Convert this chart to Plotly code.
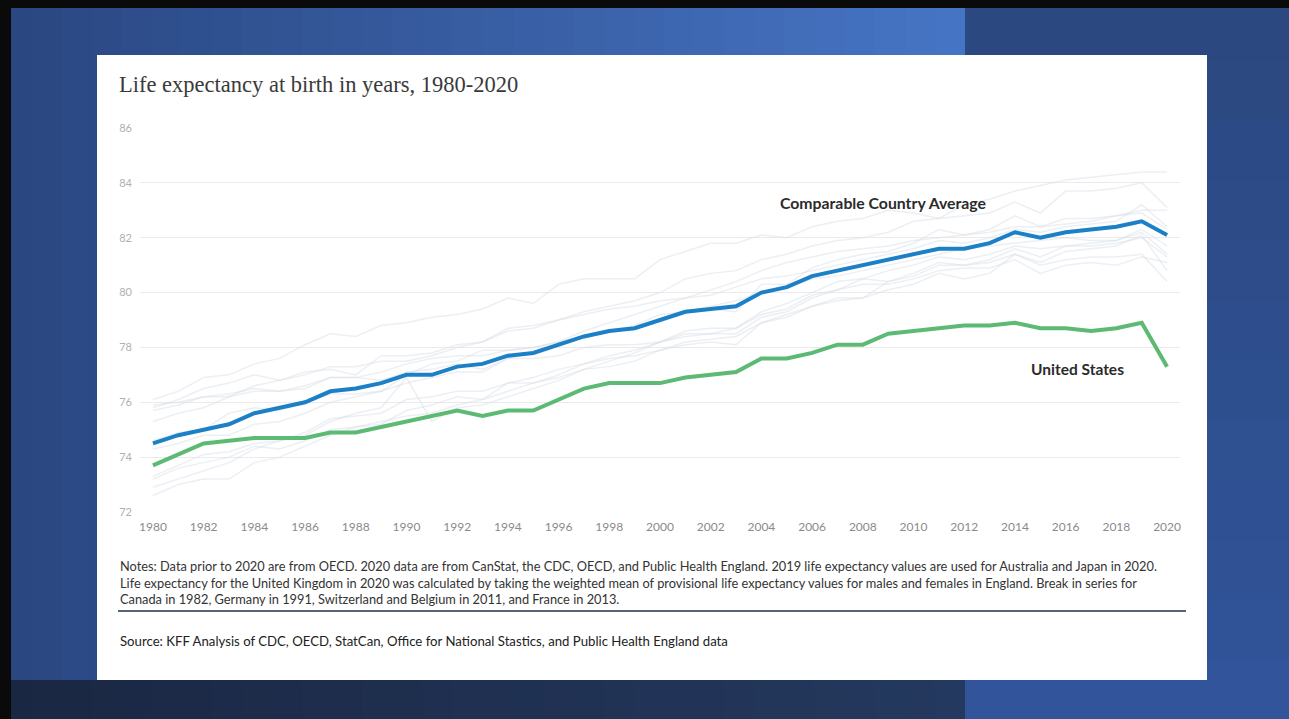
import plotly.graph_objects as go

years = list(range(1980, 2021))

comparable_avg = [74.5, 74.8, 75.0, 75.2, 75.6, 75.8, 76.0, 76.4, 76.5, 76.7,
                  77.0, 77.0, 77.3, 77.4, 77.7, 77.8, 78.1, 78.4, 78.6, 78.7,
                  79.0, 79.3, 79.4, 79.5, 80.0, 80.2, 80.6, 80.8, 81.0, 81.2,
                  81.4, 81.6, 81.6, 81.8, 82.2, 82.0, 82.2, 82.3, 82.4, 82.6,
                  82.1]

united_states = [73.7, 74.1, 74.5, 74.6, 74.7, 74.7, 74.7, 74.9, 74.9, 75.1,
                 75.3, 75.5, 75.7, 75.5, 75.7, 75.7, 76.1, 76.5, 76.7, 76.7,
                 76.7, 76.9, 77.0, 77.1, 77.6, 77.6, 77.8, 78.1, 78.1, 78.5,
                 78.6, 78.7, 78.8, 78.8, 78.9, 78.7, 78.7, 78.6, 78.7, 78.9,
                 77.3]

japan = [76.1, 76.4, 76.9, 77.0, 77.4, 77.6, 78.1, 78.5, 78.4, 78.8,
         78.9, 79.1, 79.2, 79.4, 79.8, 79.6, 80.3, 80.5, 80.5, 80.5,
         81.2, 81.5, 81.8, 81.8, 82.1, 82.0, 82.4, 82.6, 82.7, 83.0,
         82.9, 82.7, 83.2, 83.4, 83.7, 83.9, 84.1, 84.2, 84.3, 84.4,
         84.4]
switzerland = [75.7, 75.9, 76.2, 76.2, 76.6, 76.8, 77.0, 77.3, 77.3, 77.5,
               77.5, 77.7, 78.0, 78.2, 78.6, 78.7, 79.0, 79.3, 79.5, 79.7,
               80.0, 80.5, 80.7, 80.8, 81.2, 81.4, 81.7, 81.9, 82.0, 82.2,
               82.6, 82.7, 82.8, 82.9, 83.3, 82.9, 83.7, 83.7, 83.8, 84.0,
               83.1]
australia = [74.6, 74.9, 75.0, 75.6, 75.8, 75.7, 76.0, 76.3, 76.3, 76.4,
             77.0, 77.4, 77.5, 77.9, 77.9, 78.0, 78.2, 78.6, 78.9, 79.2,
             79.5, 79.8, 80.1, 80.4, 80.8, 81.1, 81.3, 81.5, 81.6, 81.7,
             81.9, 82.0, 82.1, 82.2, 82.4, 82.4, 82.5, 82.6, 82.8, 83.0,
             83.0]
sweden = [75.8, 76.1, 76.5, 76.7, 77.0, 76.8, 77.1, 77.2, 77.0, 77.7,
          77.7, 77.8, 78.1, 78.2, 78.7, 78.8, 79.0, 79.2, 79.4, 79.5,
          79.7, 79.8, 79.9, 80.2, 80.5, 80.6, 80.8, 81.0, 81.2, 81.4,
          81.6, 81.9, 81.8, 82.0, 82.3, 82.2, 82.4, 82.5, 82.6, 83.2,
          82.4]
netherlands = [75.9, 76.0, 76.2, 76.3, 76.5, 76.4, 76.5, 76.9, 76.9, 76.8,
               77.1, 77.2, 77.4, 77.2, 77.6, 77.6, 77.7, 78.0, 78.1, 78.1,
               78.2, 78.4, 78.5, 78.7, 79.3, 79.6, 80.0, 80.4, 80.5, 80.8,
               81.0, 81.3, 81.2, 81.4, 81.7, 81.6, 81.7, 81.8, 81.9, 82.2,
               81.4]
france = [74.3, 74.5, 74.8, 74.8, 75.2, 75.3, 75.6, 76.0, 76.2, 76.4,
          76.7, 76.9, 77.1, 77.1, 77.6, 77.8, 78.1, 78.4, 78.6, 78.8,
          79.2, 79.3, 79.4, 79.3, 80.3, 80.3, 80.9, 81.2, 81.4, 81.5,
          81.8, 82.3, 82.1, 82.3, 82.8, 82.4, 82.7, 82.7, 82.8, 82.9,
          82.3]
canada = [75.3, 75.6, 75.8, 76.2, 76.4, 76.4, 76.6, 76.9, 76.9, 77.1,
          77.4, 77.6, 77.7, 77.7, 77.9, 78.0, 78.2, 78.4, 78.6, 78.7,
          79.0, 79.3, 79.5, 79.7, 80.0, 80.2, 80.5, 80.6, 80.8, 81.0,
          81.2, 81.4, 81.6, 81.7, 81.8, 81.9, 82.0, 81.9, 81.9, 82.3,
          81.7]
germany = [72.9, 73.2, 73.5, 73.8, 74.3, 74.6, 74.8, 75.3, 75.6, 75.8,
           76.9, 75.3, 75.8, 75.9, 76.2, 76.5, 76.8, 77.2, 77.5, 77.8,
           78.2, 78.5, 78.5, 78.5, 79.1, 79.3, 79.8, 80.1, 80.3, 80.3,
           80.5, 80.8, 80.9, 80.9, 81.2, 80.7, 81.0, 81.1, 81.0, 81.3,
           81.1]
austria = [72.6, 73.0, 73.2, 73.2, 73.8, 74.0, 74.4, 74.8, 75.1, 75.3,
           75.5, 75.6, 75.9, 76.1, 76.4, 76.7, 77.0, 77.4, 77.7, 77.9,
           78.2, 78.6, 78.7, 78.7, 79.2, 79.4, 79.9, 80.1, 80.5, 80.4,
           80.7, 81.1, 81.0, 81.2, 81.6, 81.3, 81.7, 81.7, 81.8, 82.0,
           81.3]
belgium = [73.3, 73.7, 74.1, 74.2, 74.5, 74.6, 74.9, 75.4, 75.5, 75.6,
           76.1, 76.2, 76.4, 76.4, 76.7, 76.9, 77.2, 77.4, 77.6, 77.7,
           77.9, 78.1, 78.2, 78.1, 78.9, 79.1, 79.5, 79.8, 79.8, 80.1,
           80.3, 80.7, 80.5, 80.7, 81.4, 81.1, 81.5, 81.6, 81.7, 82.1,
           80.8]
united_kingdom = [73.2, 73.6, 73.8, 74.0, 74.4, 74.3, 74.6, 75.0, 75.1, 75.2,
                  75.7, 75.9, 76.2, 76.1, 76.7, 76.7, 76.9, 77.2, 77.3, 77.5,
                  77.9, 78.2, 78.3, 78.4, 78.9, 79.2, 79.5, 79.7, 79.8, 80.4,
                  80.6, 81.0, 81.0, 81.1, 81.4, 81.0, 81.2, 81.3, 81.3, 81.4,
                  80.4]

countries = {
    "Japan": japan, "Switzerland": switzerland, "Australia": australia,
    "Sweden": sweden, "Netherlands": netherlands, "France": france,
    "Canada": canada, "Germany": germany, "Austria": austria,
    "Belgium": belgium, "United Kingdom": united_kingdom,
}

y_ticks = [72, 74, 76, 78, 80, 82, 84, 86]
x_ticks = list(range(1980, 2021, 2))

title_text = "Life expectancy at birth in years, 1980-2020"
notes_text = ("Notes: Data prior to 2020 are from OECD. 2020 data are from CanStat, the CDC, OECD, and Public Health England. "
              "2019 life expectancy values are used for Australia and Japan in 2020.<br>"
              "Life expectancy for the United Kingdom in 2020 was calculated by taking the weighted mean of provisional "
              "life expectancy values for males and females in England. Break in series for<br>"
              "Canada in 1982, Germany in 1991, Switzerland and Belgium in 2011, and France in 2013.")
source_text = ("Source: KFF Analysis of CDC, OECD, StatCan, Office for National Stastics, "
               "and Public Health England data")

# ---------------- layout geometry (pixels) ----------------
W, H = 1289, 719
PL, PR, PT, PB = 140, 1180, 128, 512   # plot area


def px(x):
    return (x - PL) / (PR - PL)


def py(y):
    return (PB - y) / (PB - PT)


def hexmix(c1, c2, t):
    a = [int(c1[i:i + 2], 16) for i in (1, 3, 5)]
    b = [int(c2[i:i + 2], 16) for i in (1, 3, 5)]
    return "#%02x%02x%02x" % tuple(round(a[k] + (b[k] - a[k]) * t) for k in range(3))


shapes = []


def rect(x0, y0, x1, y1, color):
    shapes.append(dict(type="rect", xref="paper", yref="paper",
                       x0=px(x0), x1=px(x1), y0=py(y1), y1=py(y0),
                       fillcolor=color, line=dict(width=0), layer="below"))


# left/top gradient region
n = 32
split = 965
for i in range(n):
    x0 = split * i / n
    x1 = split * (i + 1) / n + 1
    rect(x0, 0, x1, 681, hexmix("#2a4781", "#4674c4", i / (n - 1)))
    rect(x0, 680, x1, H, hexmix("#1a2742", "#24395f", i / (n - 1)))
# right panel
m = 12
for j in range(m):
    y0 = H * j / m
    y1 = H * (j + 1) / m + 1
    rect(split, y0, W, y1, hexmix("#2b4880", "#31549a", j / (m - 1)))
# black border
rect(0, 0, W, 8, "#0a0a0a")
rect(0, 0, 11, H, "#0a0a0a")
# white card
rect(97, 55, 1207, 680, "#ffffff")
# divider line above source
shapes.append(dict(type="line", xref="paper", yref="paper",
                   x0=px(118), x1=px(1186), y0=py(611), y1=py(611),
                   line=dict(color="#1f2f4f", width=1.5), layer="above"))

fig = go.Figure()

for name, vals in countries.items():
    fig.add_trace(go.Scatter(x=years, y=vals, mode="lines", name=name,
                             line=dict(color="rgba(218,224,232,0.5)", width=1.5),
                             hoverinfo="skip", showlegend=False))

fig.add_trace(go.Scatter(x=years, y=comparable_avg, mode="lines",
                         name="Comparable Country Average",
                         line=dict(color="#1c80c6", width=4), showlegend=False))
fig.add_trace(go.Scatter(x=years, y=united_states, mode="lines",
                         name="United States",
                         line=dict(color="#5cba74", width=4), showlegend=False))

annotations = [
    dict(text=title_text, xref="paper", yref="paper", x=px(117), y=py(85),
         xanchor="left", yanchor="middle", showarrow=False,
         font=dict(family="Liberation Serif, serif", size=22.5, color="#3a3a3a")),
    dict(text="<b>Comparable Country Average</b>", xref="x", yref="y",
         x=2008.8, y=83.3, xanchor="center", yanchor="middle", showarrow=False,
         font=dict(family="Lato, sans-serif", size=15.8, color="#2b2b2b")),
    dict(text="<b>United States</b>", xref="x", yref="y",
         x=2016.45, y=77.21, xanchor="center", yanchor="middle", showarrow=False,
         font=dict(family="Lato, sans-serif", size=15.5, color="#2b2b2b")),
    dict(text=notes_text, xref="paper", yref="paper", x=px(118), y=py(556),
         xanchor="left", yanchor="top", align="left", showarrow=False,
         font=dict(family="Lato, sans-serif", size=12.8, color="#333333")),
    dict(text=source_text, xref="paper", yref="paper", x=px(118), y=py(641),
         xanchor="left", yanchor="middle", align="left", showarrow=False,
         font=dict(family="Lato, sans-serif", size=13.2, color="#222222")),
]

fig.update_layout(
    width=W, height=H, autosize=False,
    margin=dict(l=PL, r=W - PR, t=PT, b=H - PB, pad=0),
    paper_bgcolor="#2f5597",
    plot_bgcolor="rgba(0,0,0,0)",
    shapes=shapes,
    annotations=annotations,
    showlegend=False,
    xaxis=dict(range=[1979.49, 2020.51], tickmode="array", tickvals=x_ticks,
               ticktext=[str(v) for v in x_ticks], showgrid=False, zeroline=False,
               showline=False, ticks="", ticklabelstandoff=6,
               tickfont=dict(family="Lato, sans-serif", size=12, color="#8a8a8a")),
    yaxis=dict(range=[72, 86], tickmode="array", tickvals=y_ticks,
               ticktext=[str(v) for v in y_ticks], showgrid=True,
               gridcolor="#ebebeb", gridwidth=1, zeroline=False, showline=False,
               ticks="", ticklabelstandoff=7,
               tickfont=dict(family="Lato, sans-serif", size=11, color="#b0b0b0")),
)

fig.write_html("out.html")
